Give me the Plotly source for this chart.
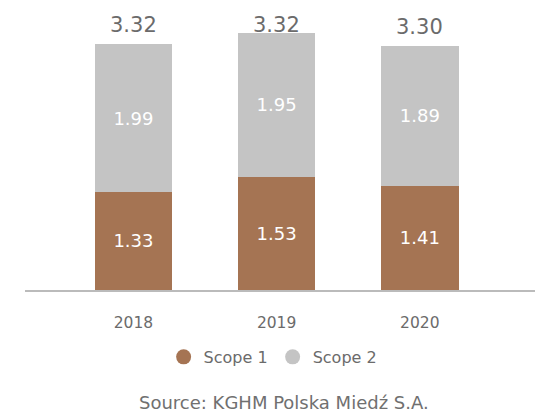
import plotly.graph_objects as go

years = ["2018", "2019", "2020"]
scope1 = [1.33, 1.53, 1.41]
scope2 = [1.99, 1.95, 1.89]
totals = [3.32, 3.32, 3.30]
series_names = ["Scope 1", "Scope 2"]
source_text = "Source: KGHM Polska Miedź S.A."

brown = "#A57453"
grey = "#C4C4C4"
font = "DejaVu Sans"

fig = go.Figure()
for name, vals, col in [(series_names[0], scope1, brown), (series_names[1], scope2, grey)]:
    fig.add_trace(
        go.Bar(
            x=years,
            y=vals,
            marker=dict(color=col, line=dict(width=0)),
            text=[f"{v:.2f}" for v in vals],
            textposition="inside",
            insidetextanchor="middle",
            textfont=dict(color="white", size=18, family=font),
            width=0.54,
            showlegend=False,
        )
    )

# circle legend entries
for name, col in [(series_names[0], brown), (series_names[1], grey)]:
    fig.add_trace(
        go.Scatter(
            x=[None], y=[None], mode="markers", name=name,
            marker=dict(color=col, size=15, symbol="circle"),
        )
    )

# totals above stacks
for i, t in enumerate(totals):
    fig.add_annotation(
        x=i, y=t, text=f"{t:.2f}", showarrow=False, yanchor="bottom", yshift=5,
        font=dict(size=21, color="#6b6b6b", family=font),
    )

fig.add_annotation(
    x=0.5, y=-0.415, xref="paper", yref="paper", text=source_text, showarrow=False,
    yanchor="middle", font=dict(size=18, color="#707070", family=font),
)

# page body has an 8px margin, so the figure is shrunk to fit
fig.update_layout(
    barmode="stack",
    width=535,
    height=404,
    margin=dict(l=17, r=0, t=12, b=122, autoexpand=False),
    plot_bgcolor="white",
    paper_bgcolor="white",
    font=dict(family=font, color="#6b6b6b"),
    legend=dict(
        orientation="h", x=0.479, xanchor="center", y=-0.248, yanchor="middle",
        font=dict(size=16, color="#6b6b6b"), traceorder="normal",
    ),
    xaxis=dict(
        type="category", range=[-0.757, 2.86], showline=True, linecolor="#BBBBBB",
        linewidth=1.5, ticks="", tickfont=dict(size=15.5, color="#6b6b6b"),
        ticklabelstandoff=18,
    ),
    yaxis=dict(range=[0, 3.65], visible=False, showgrid=False, zeroline=False),
)

fig.write_html("out.html")
